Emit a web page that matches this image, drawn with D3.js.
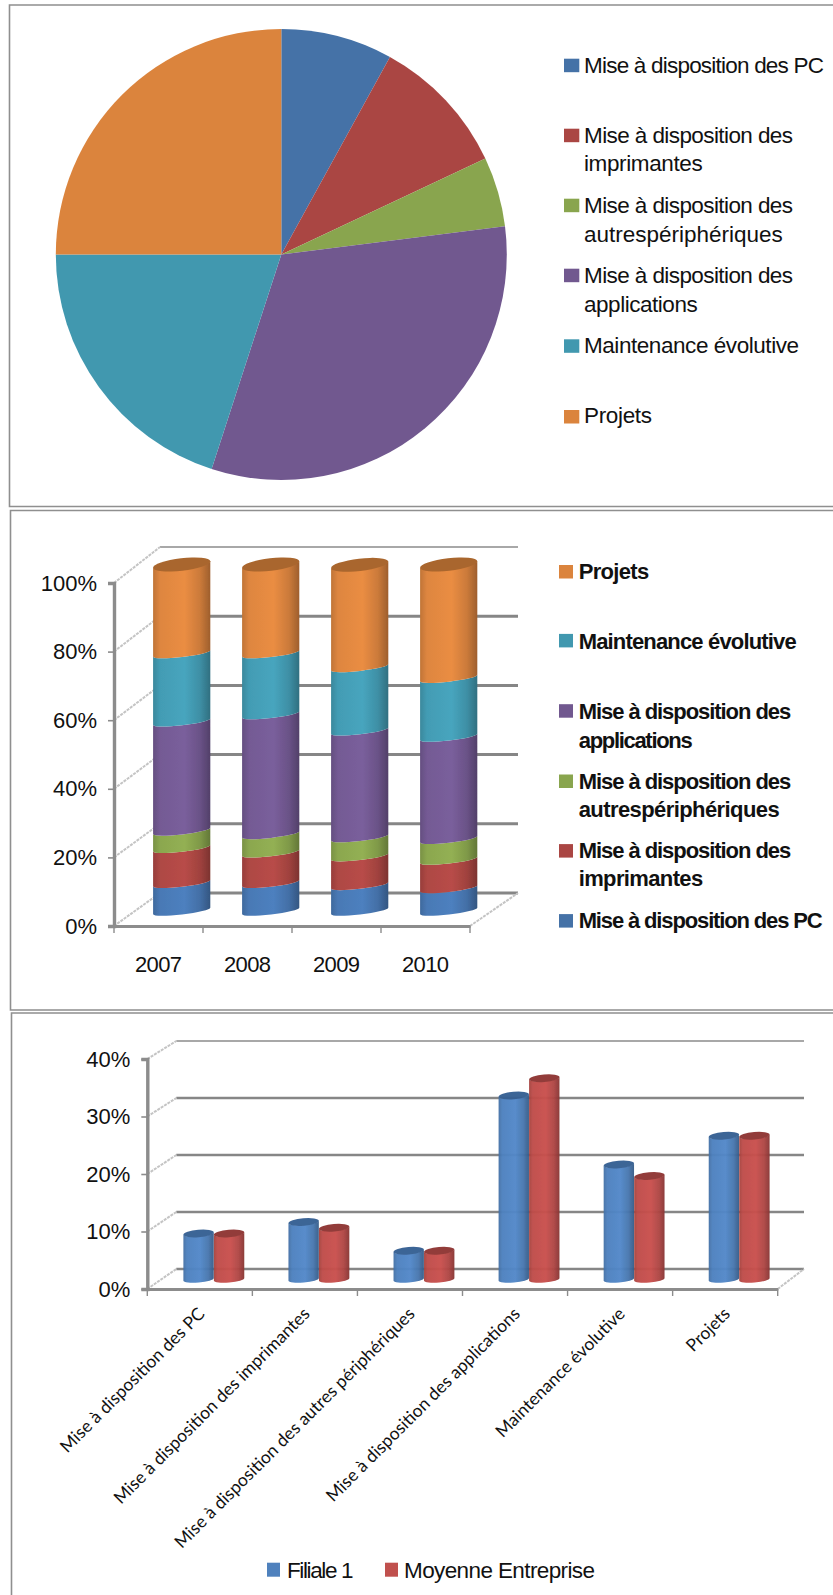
<!DOCTYPE html>
<html><head><meta charset="utf-8">
<script src="https://cdn.jsdelivr.net/npm/d3@7"></script>
<style>
html,body{margin:0;padding:0;background:#fff}
svg{display:block}
text{font-family:"Liberation Sans",Arial,sans-serif;fill:#111}
</style></head><body>
<svg id="c" width="833" height="1595"></svg>
<script>
// ---------- data ----------
const categories = ["Mise à disposition des PC","Mise à disposition des imprimantes","Mise à disposition des autres périphériques","Mise à disposition des applications","Maintenance évolutive","Projets"];
const pieValues = [8,10,5,32,20,25];
const years = ["2007","2008","2009","2010"];
const pcShare = [8.0,8.0,7.4,6.5];
const printerShare = [10.1,8.8,8.3,8.2];
const peripheralShare = [5.0,5.3,5.5,6.0];
const applicationShare = [31.5,34.6,30.8,29.5];
const maintenanceShare = [19.7,17.6,18.3,17.0];
const projectShare = [25.7,25.7,29.6,32.8];
const filiale = [8,10,5,32,20,25];
const moyenne = [8,9,5,35,18,25];
const seriesNames3 = ["Filiale 1","Moyenne Entreprise"];
const pctTicks2 = [0,.2,.4,.6,.8,1];
const pctTicks3 = [0,.1,.2,.3,.4];

// ---------- styles ----------
const flat = ["#4572a7","#aa4643","#89a54e","#71588f","#4198af","#db843d"];
const glossy = ["#4d80bf","#b84c48","#93b053","#7a5f9c","#47a5be","#ea8d43"];
const glossy3 = ["#5288c9","#c9504d"];

const svg = d3.select("#c");
const defs = svg.append("defs");
defs.append("filter").attr("id","soft").attr("x","-10%").attr("y","-10%").attr("width","120%").attr("height","120%")
  .append("feGaussianBlur").attr("stdDeviation",0.7);
function grad(id,c){
  const g = defs.append("linearGradient").attr("id",id).attr("x1",0).attr("x2",1).attr("y1",0).attr("y2",0);
  const b = d3.color(c);
  [[0,b.darker(.55)],[.12,b.darker(.15)],[.55,b],[.82,b.darker(.4)],[1,b.darker(1.1)]]
    .forEach(([o,col])=>g.append("stop").attr("offset",o).attr("stop-color",col.formatHex()));
}
glossy.forEach((c,i)=>grad("g"+i,c));
glossy3.forEach((c,i)=>grad("h"+i,c));

// ---------- frames ----------
const frameCol="#8f8f8f";
[[9.5,5,833,506.5],[10.5,510.5,833,1010],[11.5,1013,833,1600]].forEach(([x0,y0,x1,y1])=>{
  svg.append("path").attr("d",`M${x1},${y0}H${x0}V${y1}H${x1}`).attr("fill","none").attr("stroke",frameCol).attr("stroke-width",1.6);
});

// ---------- legends ----------
function legend(rows,opt){
  const g = svg.append("g");
  rows.forEach(r=>{
    g.append("rect").attr("x",opt.sx).attr("y",r.sy).attr("width",opt.sw).attr("height",opt.sh).attr("fill",r.c);
    r.lines.forEach(l=>{
      g.append("text").attr("x",opt.tx).attr("y",l.y).attr("font-size",opt.fs).attr("font-weight",opt.bold?700:400)
        .attr("textLength",l.w).attr("lengthAdjust","spacing").text(l.t);
    });
  });
}
const lineParts = {
  0:["Mise à disposition des PC"],
  1:["Mise à disposition des","imprimantes"],
  2:["Mise à disposition des","autrespériphériques"],
  3:["Mise à disposition des","applications"],
  4:["Maintenance évolutive"],
  5:["Projets"]
};

// ---------- pie ----------
const pie = d3.pie().sort(null)(pieValues);
const arc = d3.arc().innerRadius(0).outerRadius(225.5);
svg.append("g").attr("transform","translate(281.3,254.5)").selectAll("path").data(pie).join("path")
  .attr("d",arc).attr("fill",(d,i)=>flat[i]);
const w1 = {0:[240],1:[209,118.7],2:[209,198.7],3:[209,113.7],4:[215],5:[68]};
const y1s = {0:[73.3],1:[143.3,171.3],2:[213.3,241.7],3:[283.3,311.7],4:[353.3],5:[423.3]};
const s1 = [58.7,128.7,198.7,268.7,339.3,410];
legend(d3.range(6).map(i=>({c:flat[i],sy:s1[i],lines:lineParts[i].map((t,k)=>({t,y:y1s[i][k],w:w1[i][k]}))})),
  {sx:564,sw:15.3,sh:13.5,tx:584,fs:22.5});

// ---------- helpers for cylinders ----------
function cylSeg(cx,hw,ry,deg,yTop,yBot){
  const t = deg*Math.PI/180, c=Math.cos(t)*hw, s=Math.sin(t)*hw;
  return `M${cx-c},${yTop+s}A${hw},${ry} ${-deg} 0 0 ${cx+c},${yTop-s}L${cx+c},${yBot-s}A${hw},${ry} ${-deg} 0 1 ${cx-c},${yBot+s}Z`;
}
function frame3d(opt){
  const {x,yF,yB,ticks,fmt,dx,backRight,xEnd,cats} = opt;
  const g = svg.append("g");
  const left = x.range()[0];
  ticks.forEach((t,i)=>{
    const top = i===ticks.length-1;
    g.append("line").attr("x1",left+dx).attr("x2",backRight).attr("y1",yB(t)).attr("y2",yB(t))
      .attr("stroke",top?"#a8a8a8":"#868686").attr("stroke-width",top?1.8:opt.gw);
    g.append("line").attr("x1",left).attr("x2",left+dx).attr("y1",yF(t)).attr("y2",yB(t))
      .attr("stroke","#c4c4c4").attr("stroke-width",2).attr("stroke-dasharray","3 1");
  });
  g.append("line").attr("x1",xEnd).attr("x2",backRight).attr("y1",yF(0)).attr("y2",yB(0))
    .attr("stroke","#c4c4c4").attr("stroke-width",2).attr("stroke-dasharray","3 1");
  const ya = g.append("g").attr("transform",`translate(${left},0)`)
    .call(d3.axisLeft(yF).tickValues(ticks).tickFormat(fmt).tickSize(6).tickPadding(opt.pad));
  ya.select(".domain").attr("stroke","#8c8c8c").attr("stroke-width",3.4);
  ya.selectAll(".tick line").attr("stroke","#8c8c8c").attr("stroke-width",1.6);
  ya.selectAll("text").attr("font-size",opt.fs).attr("font-family","Liberation Sans").attr("fill","#111");
  const xa = g.append("g").attr("transform",`translate(0,${yF(0)})`)
    .call(d3.axisBottom(x).tickSize(0).tickPadding(0).tickFormat(""));
  xa.select(".domain").attr("stroke","#8c8c8c").attr("stroke-width",3);
  const step = x.step();
  d3.range(cats+1).forEach(i=>{
    g.append("line").attr("x1",left+i*step).attr("x2",left+i*step).attr("y1",yF(0)).attr("y2",yF(0)+7)
      .attr("stroke","#8c8c8c").attr("stroke-width",1.4);
  });
}

// ---------- stacked cylinders ----------
const x2 = d3.scaleBand().domain(years).range([114,470]).paddingInner(0).paddingOuter(0);
const y2F = d3.scaleLinear().domain([0,1]).range([926,583]);
const y2B = d3.scaleLinear().domain([0,1]).range([893,547]);
const y2C = d3.scaleLinear().domain([0,100]).range([911,564.5]);
frame3d({x:x2,yF:y2F,yB:y2B,ticks:pctTicks2,fmt:d3.format(".0%"),dx:46,backRight:518,xEnd:470,cats:4,gw:3,pad:11,fs:22});
const rows2 = years.map((y,i)=>({year:y,s0:pcShare[i],s1:printerShare[i],s2:peripheralShare[i],s3:applicationShare[i],s4:maintenanceShare[i],s5:projectShare[i]}));
const stacked = d3.stack().keys(["s0","s1","s2","s3","s4","s5"])(rows2);
const cyl2 = svg.append("g").attr("filter","url(#soft)");
const off2 = 23.2, hw2 = 28.8;
stacked.forEach((ser,si)=>{
  cyl2.selectAll(null).data(ser).join("path")
    .attr("d",d=>cylSeg(x2(d.data.year)+x2.bandwidth()/2+off2,hw2,3.5,6.6,y2C(d[1]),y2C(d[0])))
    .attr("fill",`url(#g${si})`);
});
cyl2.selectAll(null).data(stacked[5]).join("ellipse")
  .attr("rx",hw2).attr("ry",6.2)
  .attr("transform",d=>`translate(${x2(d.data.year)+x2.bandwidth()/2+off2},${y2C(d[1])}) rotate(-6.6)`)
  .attr("fill","#a9662d");
svg.append("g").selectAll("text").data(years).join("text")
  .attr("x",d=>x2(d)+x2.bandwidth()/2).attr("y",972).attr("text-anchor","middle").attr("font-size",22).attr("textLength",47).text(d=>d);
const order2=[5,4,3,2,1,0];
const s2={5:565,4:633.9,3:704.2,2:774.5,1:844.1,0:914.1};
const y2s={5:[578.8],4:[648.8],3:[719,747.5],2:[789,816.8],1:[858.4,886],0:[927.6]};
const w2={5:[70.5],4:[218],3:[212.5,114],2:[212.5,201],1:[212.5,124.5],0:[244]};
legend(order2.map(i=>({c:flat[i],sy:s2[i],lines:lineParts[i].map((t,k)=>({t,y:y2s[i][k],w:w2[i][k]}))})),
  {sx:559,sw:14,sh:13.5,tx:578.7,fs:22,bold:true});

// ---------- clustered cylinders ----------
const x3 = d3.scaleBand().domain(categories).range([147.3,777.7]);
const x3in = d3.scaleBand().domain(seriesNames3).range([0,61]);
const y3F = d3.scaleLinear().domain([0,.4]).range([1289,1059]);
const y3B = d3.scaleLinear().domain([0,.4]).range([1269,1041]);
const y3C = d3.scaleLinear().domain([0,40]).range([1279.5,1049.5]);
frame3d({x:x3,yF:y3F,yB:y3B,ticks:pctTicks3,fmt:d3.format(".0%"),dx:29,backRight:804,xEnd:777.7,cats:6,gw:2.6,pad:11,fs:22});
const cyl3 = svg.append("g").attr("filter","url(#soft)").attr("opacity",.96);
[filiale,moyenne].forEach((vals,si)=>{
  const name = seriesNames3[si], hw=x3in.bandwidth()/2;
  const cx = c => x3(c)+x3.bandwidth()/2-16.5+x3in(name)+hw;
  const rows = categories.map((c,i)=>({c,v:vals[i]}));
  cyl3.selectAll(null).data(rows).join("path")
    .attr("d",d=>cylSeg(cx(d.c),hw,3,5,y3C(d.v),y3C(0))).attr("fill",`url(#h${si})`);
  cyl3.selectAll(null).data(rows).join("ellipse")
    .attr("rx",hw).attr("ry",3.8)
    .attr("transform",d=>`translate(${cx(d.c)},${y3C(d.v)}) rotate(-5)`)
    .attr("fill",si?"#8e3533":"#365f92");
});
svg.append("g").selectAll("text").data(categories).join("text")
  .attr("transform",d=>`translate(${x3(d)+x3.bandwidth()/2+6},1315) rotate(-45)`)
  .attr("text-anchor","end").style("font-family","Lato").attr("font-size",17.5).text(d=>d);
svg.append("rect").attr("x",267).attr("y",1562.7).attr("width",13).attr("height",14).attr("fill","#4f81bd");
svg.append("rect").attr("x",385).attr("y",1562.7).attr("width",13).attr("height",14).attr("fill","#c0504d");
svg.append("text").attr("x",287).attr("y",1577.5).attr("font-size",22.5).attr("textLength",66.5).text(seriesNames3[0]);
svg.append("text").attr("x",404).attr("y",1577.5).attr("font-size",22.5).attr("textLength",191).text(seriesNames3[1]);
</script>
</body></html>
